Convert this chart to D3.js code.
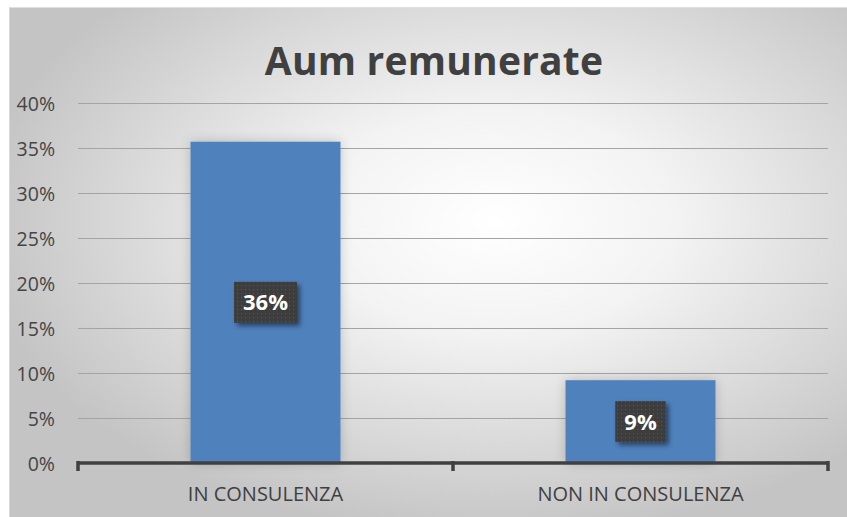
<!DOCTYPE html>
<html>
<head>
<meta charset="utf-8">
<script src="https://cdn.jsdelivr.net/npm/d3@7"></script>
<style>
html,body{margin:0;padding:0;background:#fff;}
svg{display:block;}
</style>
</head>
<body>
<svg id="chart" width="847" height="517"></svg>
<script>
const title = "Aum remunerate";
const categories = ["IN CONSULENZA", "NON IN CONSULENZA"];
const values = [0.357, 0.092];
const valueLabels = ["36%", "9%"];
const yTicks = [0, 0.05, 0.10, 0.15, 0.20, 0.25, 0.30, 0.35, 0.40];

const svg = d3.select("#chart");
const W = 847, H = 517;
const defs = svg.append("defs");

const rg = defs.append("radialGradient").attr("id","bg")
  .attr("cx","58%").attr("cy","42%").attr("r","62%")
  .attr("fx","58%").attr("fy","42%");
rg.append("stop").attr("offset","0%").attr("stop-color","#ffffff");
rg.append("stop").attr("offset","35%").attr("stop-color","#f3f3f3");
rg.append("stop").attr("offset","100%").attr("stop-color","#c4c4c4");

const pat = defs.append("pattern").attr("id","dots")
  .attr("width",4).attr("height",4).attr("patternUnits","userSpaceOnUse");
pat.append("rect").attr("width",4).attr("height",4).attr("fill","#3c3c3c");
pat.append("rect").attr("x",1).attr("y",1).attr("width",1.2).attr("height",1.2).attr("fill","#555555");

const glow = defs.append("filter").attr("id","glow")
  .attr("x","-20%").attr("y","-20%").attr("width","140%").attr("height","140%");
glow.append("feGaussianBlur").attr("in","SourceAlpha").attr("stdDeviation",6).attr("result","b");
glow.append("feComponentTransfer").attr("in","b").attr("result","c")
  .append("feFuncA").attr("type","linear").attr("slope",0.2);
const gm = glow.append("feMerge");
gm.append("feMergeNode").attr("in","c");
gm.append("feMergeNode").attr("in","SourceGraphic");

const sh = defs.append("filter").attr("id","shadow")
  .attr("x","-30%").attr("y","-30%").attr("width","170%").attr("height","170%");
sh.append("feGaussianBlur").attr("in","SourceAlpha").attr("stdDeviation",2.5).attr("result","b");
sh.append("feOffset").attr("in","b").attr("dx",3).attr("dy",3).attr("result","o");
sh.append("feComponentTransfer").attr("in","o").attr("result","c")
  .append("feFuncA").attr("type","linear").attr("slope",0.5);
const sm = sh.append("feMerge");
sm.append("feMergeNode").attr("in","c");
sm.append("feMergeNode").attr("in","SourceGraphic");

// background
svg.append("rect").attr("x",0).attr("y",0).attr("width",W).attr("height",H).attr("fill","#ffffff");
svg.append("rect").attr("x",9).attr("y",7).attr("width",W-9).attr("height",H-7).attr("fill","url(#bg)");
svg.append("line").attr("x1",9).attr("x2",W).attr("y1",7.5).attr("y2",7.5).attr("stroke","#e0e0e0").attr("stroke-width",1);
svg.append("line").attr("x1",9.5).attr("x2",9.5).attr("y1",7).attr("y2",H).attr("stroke","#d8d8d8").attr("stroke-width",1);

const x = d3.scaleBand().domain(categories).range([78, 828]).paddingInner(0.6).paddingOuter(0.3);
const y = d3.scaleLinear().domain([0, 0.4]).range([463, 103]);

// title
svg.append("text").attr("x", 434).attr("y", 75)
  .attr("text-anchor","middle")
  .attr("font-family","'Open Sans', sans-serif")
  .attr("font-weight","bold").attr("font-size",39)
  .attr("letter-spacing","0.2")
  .attr("fill","#404040").text(title);

// gridlines
svg.append("g").selectAll("line").data(yTicks.filter(d => d > 0)).join("line")
  .attr("x1", 78).attr("x2", 828)
  .attr("y1", d => Math.round(y(d)) + 0.5).attr("y2", d => Math.round(y(d)) + 0.5)
  .attr("stroke","#a4a4a4").attr("stroke-width",1);

// y axis labels
const yAxis = d3.axisLeft(y).tickValues(yTicks).tickFormat(d3.format(".0%")).tickSize(0).tickPadding(0);
const ya = svg.append("g").attr("transform","translate(55,0)").call(yAxis);
ya.select(".domain").remove();
ya.selectAll("text").attr("font-family","'Open Sans', sans-serif").attr("font-size",19.5)
  .attr("fill","#454545").attr("dy","0.36em");

// bars
svg.append("g").selectAll("rect").data(values).join("rect")
  .attr("x", (d,i) => x(categories[i]))
  .attr("y", d => y(d))
  .attr("width", x.bandwidth())
  .attr("height", d => y(0) - y(d))
  .attr("fill","#4f81bd")
  .attr("filter","url(#glow)");

// x axis
const xa = svg.append("g");
xa.append("line").attr("x1",78).attr("x2",829).attr("y1",463).attr("y2",463)
  .attr("stroke","#404040").attr("stroke-width",3.5);
const tickXs = [78, x(categories[1]) - x.step()*x.paddingInner()/2, 828];
xa.selectAll(".tk").data(tickXs).join("line").attr("class","tk")
  .attr("x1", d => d).attr("x2", d => d).attr("y1", 461).attr("y2", 471)
  .attr("stroke","#404040").attr("stroke-width",3.5);

svg.append("g").selectAll("text").data(categories).join("text")
  .attr("x", d => x(d) + x.bandwidth()/2).attr("y", 501)
  .attr("text-anchor","middle")
  .attr("font-family","'Open Sans', sans-serif").attr("font-size",20)
  .attr("fill","#404040").text(d => d);

// data labels
const lg = svg.append("g").selectAll("g").data(values).join("g");
lg.each(function(d, i) {
  const g = d3.select(this);
  const cx = x(categories[i]) + x.bandwidth()/2;
  const cy = (y(d) + y(0)) / 2;
  const r = g.append("rect");
  const t = g.append("text").attr("x", cx).attr("y", cy).attr("dy","0.36em")
    .attr("text-anchor","middle")
    .attr("font-family","'Open Sans', sans-serif").attr("font-weight","bold").attr("font-size",22)
    .attr("fill","#ffffff").text(valueLabels[i]);
  const w = t.node().getComputedTextLength();
  r.attr("x", cx - w/2 - 9).attr("y", cy - 20.5).attr("width", w + 18).attr("height", 41)
    .attr("fill","url(#dots)").attr("filter","url(#shadow)");
});
</script>
</body>
</html>
